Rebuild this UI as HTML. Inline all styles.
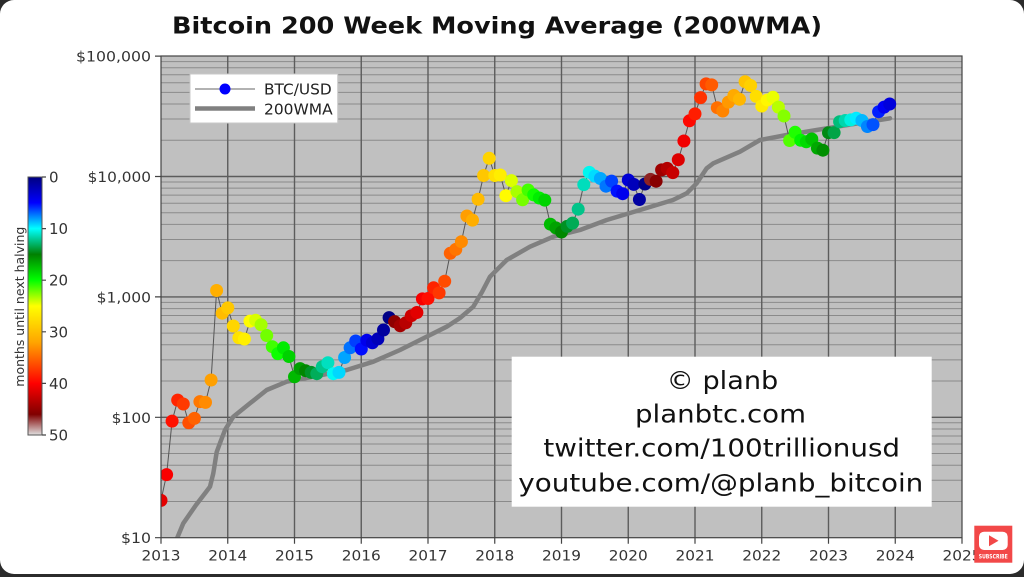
<!DOCTYPE html>
<html><head><meta charset="utf-8">
<style>
html,body{margin:0;padding:0;background:#2b2b2b;}
svg{display:block;}
text{font-family:"DejaVu Sans","Liberation Sans",sans-serif;}
</style></head>
<body>
<svg width="1024" height="577" viewBox="0 0 1024 577">
<defs>
<linearGradient id="cb" x1="0" y1="0" x2="0" y2="1">
<stop offset="0" stop-color="#000080"/>
<stop offset="0.1" stop-color="#0000ff"/>
<stop offset="0.2" stop-color="#00ffff"/>
<stop offset="0.3" stop-color="#008000"/>
<stop offset="0.4" stop-color="#00ff00"/>
<stop offset="0.5" stop-color="#ffff00"/>
<stop offset="0.64" stop-color="#ffa500"/>
<stop offset="0.8" stop-color="#ff0000"/>
<stop offset="0.92" stop-color="#800000"/>
<stop offset="1" stop-color="#e0e0e0"/>
</linearGradient>
<clipPath id="pc"><rect x="161" y="56" width="801" height="481.7"/></clipPath>
</defs>
<rect x="0" y="0" width="1024" height="577" fill="#2b2b2b"/>
<rect x="0" y="0" width="1024" height="574" rx="14" ry="14" fill="#ffffff"/>

<text x="172" y="33.3" font-size="23" font-weight="bold" fill="#111" textLength="650" lengthAdjust="spacingAndGlyphs">Bitcoin 200 Week Moving Average (200WMA)</text>

<!-- plot area -->
<rect x="161" y="56" width="801" height="481.7" fill="#c0c0c0"/>
<path fill="none" stroke="#8a8a8a" stroke-width="1" d="
M161 501.46H962M161 480.25H962M161 465.21H962M161 453.54H962M161 444.01H962M161 435.95H962M161 428.97H962M161 422.81H962
M161 381.06H962M161 359.85H962M161 344.81H962M161 333.14H962M161 323.61H962M161 315.55H962M161 308.57H962M161 302.41H962
M161 260.66H962M161 239.45H962M161 224.41H962M161 212.74H962M161 203.21H962M161 195.15H962M161 188.17H962M161 182.01H962
M161 140.26H962M161 119.05H962M161 104.01H962M161 92.34H962M161 82.81H962M161 74.75H962M161 67.77H962M161 61.61H962"/>
<path fill="none" stroke="#5c5c5c" stroke-width="1.4" d="
M161 417.3H962M161 296.9H962M161 176.5H962
M227.75 56V537.7M294.5 56V537.7M361.25 56V537.7M428 56V537.7M494.75 56V537.7M561.5 56V537.7M628.25 56V537.7M695 56V537.7M761.75 56V537.7M828.5 56V537.7M895.25 56V537.7"/>

<g clip-path="url(#pc)">
<polyline fill="none" stroke="#808080" stroke-width="4.5" stroke-linejoin="round" stroke-linecap="round" points="175,548 177.3,537.7 183.3,523.3 196,505 206,492 210,486.7 213.3,473.3 216.7,452 220,443 225,430 233.3,416.7 250,403.3 266.7,390 286.7,381.7 316.7,376 346.7,370 373.3,361.7 400,350 420,340 446.7,326.7 460,318 473.3,306.7 482,292 490,276.7 506.7,260 530,246.7 553.3,236.7 580,230 606.7,220 640,210 673,200 686.7,193.3 696.7,183.3 706.7,168.3 713.3,163.3 740,151.7 760,140 786.7,135 826.7,128.3 890,118.3"/>
<g id="pts"></g>
</g>

<!-- spines -->
<rect x="161" y="56" width="801" height="481.7" fill="none" stroke="#444" stroke-width="1.2"/>

<!-- y ticks -->
<path stroke="#444" stroke-width="1.2" d="M155 56.1H161M155 176.5H161M155 296.9H161M155 417.3H161M155 537.7H161
M161 537.7V543.7M227.75 537.7V543.7M294.5 537.7V543.7M361.25 537.7V543.7M428 537.7V543.7M494.75 537.7V543.7M561.5 537.7V543.7M628.25 537.7V543.7M695 537.7V543.7M761.75 537.7V543.7M828.5 537.7V543.7M895.25 537.7V543.7M962 537.7V543.7"/>
<g font-size="14.5" fill="#333" text-anchor="end">
<text x="151" y="61.6" textLength="75" lengthAdjust="spacingAndGlyphs">$100,000</text>
<text x="151" y="182" textLength="63.4" lengthAdjust="spacingAndGlyphs">$10,000</text>
<text x="151" y="302.4" textLength="54.3" lengthAdjust="spacingAndGlyphs">$1,000</text>
<text x="151" y="422.8" textLength="39.3" lengthAdjust="spacingAndGlyphs">$100</text>
<text x="151" y="543.2" textLength="30" lengthAdjust="spacingAndGlyphs">$10</text>
</g>
<g font-size="14.5" fill="#333" text-anchor="middle">
<text x="161" y="560.5" textLength="39" lengthAdjust="spacingAndGlyphs">2013</text>
<text x="227.75" y="560.5" textLength="39" lengthAdjust="spacingAndGlyphs">2014</text>
<text x="294.5" y="560.5" textLength="39" lengthAdjust="spacingAndGlyphs">2015</text>
<text x="361.25" y="560.5" textLength="39" lengthAdjust="spacingAndGlyphs">2016</text>
<text x="428" y="560.5" textLength="39" lengthAdjust="spacingAndGlyphs">2017</text>
<text x="494.75" y="560.5" textLength="39" lengthAdjust="spacingAndGlyphs">2018</text>
<text x="561.5" y="560.5" textLength="39" lengthAdjust="spacingAndGlyphs">2019</text>
<text x="628.25" y="560.5" textLength="39" lengthAdjust="spacingAndGlyphs">2020</text>
<text x="695" y="560.5" textLength="39" lengthAdjust="spacingAndGlyphs">2021</text>
<text x="761.75" y="560.5" textLength="39" lengthAdjust="spacingAndGlyphs">2022</text>
<text x="828.5" y="560.5" textLength="39" lengthAdjust="spacingAndGlyphs">2023</text>
<text x="895.25" y="560.5" textLength="39" lengthAdjust="spacingAndGlyphs">2024</text>
<text x="962" y="560.5" textLength="39" lengthAdjust="spacingAndGlyphs">2025</text>
</g>

<!-- legend -->
<rect x="190" y="74" width="147.7" height="49" fill="#fff" stroke="#c8c8c8" stroke-width="1"/>
<line x1="195" y1="89" x2="255" y2="89" stroke="#666" stroke-width="1"/>
<circle cx="225" cy="89" r="5.5" fill="#0000ff"/>
<line x1="195" y1="108.5" x2="255" y2="108.5" stroke="#808080" stroke-width="4.5"/>
<text x="264" y="94.3" font-size="15" fill="#222" textLength="67.7" lengthAdjust="spacingAndGlyphs">BTC/USD</text>
<text x="264" y="114.3" font-size="15" fill="#222" textLength="68.7" lengthAdjust="spacingAndGlyphs">200WMA</text>

<!-- watermark box -->
<rect x="511.7" y="356.7" width="420" height="150" fill="#fff"/>
<g font-size="25" fill="#111" text-anchor="middle">
<text x="722.5" y="389" textLength="111.6" lengthAdjust="spacingAndGlyphs">© planb</text>
<text x="720.5" y="422.3" textLength="171" lengthAdjust="spacingAndGlyphs">planbtc.com</text>
<text x="721.7" y="456.7" textLength="356.7" lengthAdjust="spacingAndGlyphs">twitter.com/100trillionusd</text>
<text x="720.8" y="491.7" textLength="405" lengthAdjust="spacingAndGlyphs">youtube.com/@planb_bitcoin</text>
</g>

<!-- colorbar -->
<rect x="28" y="177" width="14" height="258" fill="url(#cb)" stroke="#555" stroke-width="1"/>
<path stroke="#444" stroke-width="1.2" d="M42 177H46M42 228.6H46M42 280.2H46M42 331.8H46M42 383.4H46M42 435H46"/>
<g font-size="15" fill="#333">
<text x="49" y="182.5">0</text>
<text x="49" y="234.1">10</text>
<text x="49" y="285.7">20</text>
<text x="49" y="337.3">30</text>
<text x="49" y="388.9">40</text>
<text x="49" y="440.5">50</text>
</g>
<text transform="translate(24,306.7) rotate(-90)" text-anchor="middle" font-size="12.5" fill="#333" textLength="160" lengthAdjust="spacingAndGlyphs">months until next halving</text>

<!-- subscribe button -->
<rect x="974.3" y="525.7" width="38" height="37" fill="#f24848"/>
<rect x="979" y="531.7" width="28.7" height="18.3" rx="5" fill="#fff"/>
<polygon points="989,535.3 989,546.3 998.5,540.8" fill="#f24848"/>
<text x="993.3" y="558.5" text-anchor="middle" font-size="6" font-weight="bold" fill="#fff" textLength="29" lengthAdjust="spacingAndGlyphs">SUBSCRIBE</text>
</svg>
<script>
(function(){
var P=[20.4,33.4,93,139,129,90,98,135,133,204,1130,732,
810,573,457,447,630,640,586,478,386,338,378,320,
217,254,244,236,230,263,284,230,236,314,378,430,
369,437,416,448,531,673,624,575,609,698,742,963,
970,1190,1080,1350,2300,2480,2875,4700,4340,6470,10200,14150,
10200,10300,6930,9240,7490,6400,7730,7030,6630,6370,4020,3740,
3460,3850,4100,5350,8570,10820,10080,9630,8300,9150,7570,7190,
9350,8600,6440,8660,9460,9140,11350,11680,10780,13800,19700,29000,
33100,45200,58800,57700,37300,35000,41500,47100,43800,61300,57000,46300,
38500,43200,45500,37700,31800,19900,23300,20000,19400,20500,17200,16550,
23100,23150,28500,29200,29500,30500,29200,26000,27000,34500,37700,40000];
var H=[2016.52,2020.36,2024.30];
var S=[[0,0,0,128],[5,0,0,255],[10,0,255,255],[15,0,128,0],[20,0,255,0],[25,255,255,0],[32,255,165,0],[40,255,0,0],[46,128,0,0],[50,224,224,224]];
function col(v){v=Math.max(0,Math.min(50,v));for(var i=1;i<S.length;i++){if(v<=S[i][0]){var a=S[i-1],b=S[i],t=(v-a[0])/(b[0]-a[0]);var c=[];for(var k=1;k<4;k++)c.push(Math.round(a[k]+(b[k]-a[k])*t));return 'rgb('+c.join(',')+')';}}return '#ccc';}
var pts=[],circ='';
for(var i=0;i<P.length;i++){
var x=161+i*66.75/12,y=537.7-120.4*(Math.log(P[i])/Math.LN10-1);
pts.push(x.toFixed(1)+','+y.toFixed(1));
var d=2013+(i+1)/12,h=H[2];for(var j=0;j<H.length;j++){if(H[j]>d+1e-6){h=H[j];break;}}
circ+='<circle cx="'+x.toFixed(1)+'" cy="'+y.toFixed(1)+'" r="6.5" fill="'+col((h-d)*12)+'"/>';
}
document.getElementById('pts').innerHTML='<polyline points="'+pts.join(' ')+'" fill="none" stroke="#555" stroke-width="1"/>'+circ;
})();
</script>
</body></html>
